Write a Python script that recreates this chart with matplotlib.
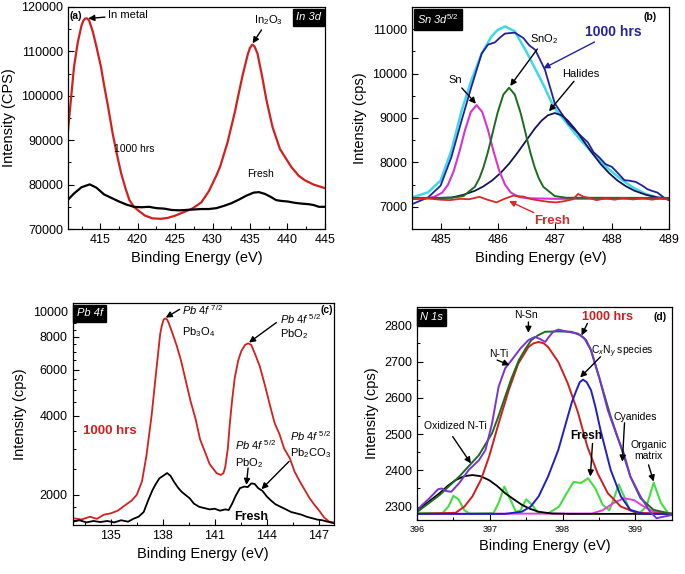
import matplotlib
matplotlib.use("Agg")
import matplotlib.pyplot as plt
from matplotlib.ticker import MultipleLocator, FixedLocator, NullFormatter

plt.rcParams['font.family'] = ['Liberation Sans', 'DejaVu Sans']
plt.rcParams['mathtext.fontset'] = 'custom'
plt.rcParams['mathtext.rm'] = 'Liberation Sans'
plt.rcParams['mathtext.it'] = 'Liberation Sans:italic'
plt.rcParams['mathtext.bf'] = 'Liberation Sans:bold'

# ---------------- (a) In 3d ----------------
a_be_1000 = [410.7, 411.0, 411.5, 412.0, 412.5, 412.75, 413.0, 413.25, 413.5, 414.0, 414.5, 415.1,
             415.5, 416.0, 416.66, 417.2, 417.8, 418.4, 418.9, 419.5, 420.2, 421.0, 422.0, 423.1,
             424.0, 425.0, 426.0, 427.3, 428.5, 429.5, 430.5, 431.0, 432.0, 433.0, 433.3, 434.0,
             434.7, 435.0, 435.3, 435.6, 436.0, 436.6, 437.2, 438.0, 439.0, 440.5, 441.5, 442.3,
             443.5, 445.0]
a_int_1000 = [92200, 97600, 106500, 112000, 115800, 116900, 117400, 117400, 117000, 114500, 111000,
              106500, 102500, 98000, 91500, 87000, 82500, 79000, 76500, 75000, 74000, 73000, 72400,
              72300, 72500, 73000, 73700, 74600, 76000, 78500, 82000, 84000, 89500, 96500, 99000,
              104500, 109300, 110800, 111500, 111100, 109500, 104500, 99000, 93000, 88000, 84000,
              82000, 81000, 80000, 79200]
a_be_fresh = [410.7, 411.5, 412.5, 413.6, 414.5, 415.5, 416.5, 417.5, 418.5, 419.5, 420.5, 421.5,
              422.5, 423.5, 424.5, 425.5, 426.5, 427.5, 428.5, 429.5, 430.5, 431.5, 432.5, 433.5,
              434.5, 435.5, 436.2, 437.0, 437.8, 438.5, 439.3, 440.0, 441.0, 442.0, 442.8, 443.5,
              444.2, 445.0]
a_int_fresh = [76600, 78000, 79400, 80050, 79300, 77800, 77000, 76200, 75500, 75000, 74900, 75000,
               74700, 74600, 74300, 74200, 74300, 74400, 74500, 74500, 74700, 75200, 75800, 76600,
               77500, 78200, 78300, 77900, 77200, 76500, 76300, 76200, 75900, 75700, 75600, 75400,
               75000, 75000]

# ---------------- (b) Sn 3d5/2 ----------------
b_be_env = [484.5, 484.78, 485.0, 485.19, 485.37, 485.54, 485.72, 485.89, 486.0, 486.13, 486.3,
            486.5, 486.66, 486.8, 486.98, 487.2, 487.4, 487.65, 487.9, 488.12, 488.35, 488.59,
            488.8, 489.0]
b_int_env = [7211, 7325, 7590, 8270, 9170, 9850, 10450, 10830, 10980, 11060, 10950, 10500, 10100,
             9750, 9250, 8900, 8580, 8230, 7900, 7660, 7450, 7290, 7210, 7170]
b_be_1000 = [484.5, 484.78, 485.0, 485.19, 485.37, 485.54, 485.72, 485.83, 485.95, 486.05, 486.13,
             486.3, 486.45, 486.55, 486.66, 486.83, 487.0, 487.12, 487.24, 487.36, 487.48, 487.58,
             487.68, 487.79, 487.89, 488.0, 488.12, 488.22, 488.3, 488.42, 488.53, 488.62, 488.7,
             488.8, 488.91, 489.0]
b_int_1000 = [7060, 7210, 7475, 8120, 8950, 9700, 10450, 10650, 10700, 10820, 10900, 10920, 10800,
              10640, 10530, 10080, 9330, 9100, 8870, 8720, 8570, 8450, 8230, 8100, 7960, 7900, 7740,
              7600, 7590, 7560, 7480, 7400, 7360, 7320, 7210, 7150]
b_be_hal = [484.5, 485.0, 485.2, 485.4, 485.6, 485.75, 485.9, 486.05, 486.2, 486.35, 486.5, 486.65,
            486.77, 486.88, 487.0, 487.12, 487.23, 487.35, 487.5, 487.65, 487.8, 487.95, 488.1,
            488.25, 488.4, 488.6, 488.8, 489.0]
b_int_hal = [7180, 7200, 7210, 7270, 7360, 7460, 7590, 7760, 7970, 8220, 8490, 8760, 8940, 9060,
             9110, 9060, 8940, 8760, 8490, 8220, 7970, 7760, 7590, 7460, 7360, 7270, 7210, 7190]
b_be_sn = [484.5, 484.73, 484.88, 485.03, 485.13, 485.23, 485.33, 485.43, 485.53, 485.63, 485.73,
           485.83, 485.93, 486.03, 486.13, 486.23, 486.38, 486.53, 487.0, 489.0]
b_int_sn = [7190, 7192, 7218, 7321, 7496, 7803, 8240, 8734, 9135, 9290, 9135, 8734, 8240, 7803,
            7496, 7321, 7218, 7192, 7180, 7180]
b_be_sno2 = [484.5, 485.2, 485.4, 485.6, 485.68, 485.75, 485.82, 485.87, 485.95, 486.0, 486.1,
             486.2, 486.3, 486.4, 486.45, 486.53, 486.58, 486.65, 486.72, 486.8, 487.0, 487.2, 489.0]
b_int_sno2 = [7200, 7204, 7242, 7450, 7643, 7884, 8189, 8440, 8866, 9122, 9527, 9680, 9527, 9122,
              8866, 8440, 8189, 7884, 7643, 7450, 7242, 7204, 7200]
b_be_fresh = [484.5, 484.75, 485.0, 485.16, 485.35, 485.5, 485.68, 485.82, 485.98, 486.12, 486.27,
              486.45, 486.6, 486.74, 486.9, 487.03, 487.18, 487.32, 487.41, 487.5, 487.6, 487.73,
              487.9, 488.05, 488.2, 488.37, 488.55, 488.7, 488.85, 489.0]
b_int_fresh = [7170, 7190, 7160, 7150, 7180, 7170, 7225, 7160, 7100, 7180, 7250, 7230, 7170, 7140,
               7110, 7100, 7130, 7170, 7290, 7230, 7200, 7150, 7190, 7160, 7200, 7165, 7200, 7160,
               7190, 7160]

# ---------------- (c) Pb 4f ----------------
c_be_1000 = [132.8, 133.3, 133.8, 134.2, 134.6, 135.0, 135.4, 135.8, 136.2, 136.5, 136.8, 137.05,
             137.35, 137.65, 137.85, 137.95, 138.05, 138.15, 138.25, 138.35, 138.6, 138.8, 139.05,
             139.35, 139.6, 139.9, 140.15, 140.4, 140.7, 141.1, 141.35, 141.5, 141.6, 141.75,
             141.86, 142.0, 142.15, 142.35, 142.53, 142.75, 142.92, 143.1, 143.35, 143.59, 143.9,
             144.17, 144.45, 144.74, 145.0, 145.32, 145.6, 145.9, 146.2, 146.47, 146.75, 147.05,
             147.3, 147.6, 147.85]
c_int_1000 = [1630, 1610, 1650, 1620, 1680, 1700, 1740, 1820, 1900, 2000, 2250, 2800, 3980, 6170,
              8200, 8850, 9300, 9400, 9300, 9000, 8100, 7400, 6500, 5350, 4550, 3870, 3250, 2950,
              2620, 2420, 2380, 2420, 2550, 3000, 3700, 4600, 5580, 6500, 7060, 7450, 7550, 7450,
              6800, 6180, 5200, 4410, 3750, 3390, 3000, 2760, 2450, 2250, 2080, 1940, 1830, 1730,
              1640, 1580, 1570]
c_be_fresh = [132.8, 133.2, 133.6, 134.0, 134.4, 134.8, 135.2, 135.6, 136.0, 136.3, 136.6, 136.9,
              137.15, 137.4, 137.6, 137.8, 138.05, 138.25, 138.45, 138.65, 138.9, 139.1, 139.3,
              139.55, 139.8, 140.1, 140.4, 140.7, 141.0, 141.3, 141.6, 141.8, 142.0, 142.2, 142.45,
              142.7, 142.9, 143.1, 143.3, 143.5, 143.75, 144.0, 144.25, 144.5, 144.8, 145.1, 145.4,
              145.7, 146.0, 146.3, 146.6, 146.9, 147.2, 147.5, 147.85]
c_int_fresh = [1580, 1600, 1570, 1590, 1575, 1590, 1570, 1600, 1580, 1620, 1650, 1720, 1900, 2080,
               2200, 2310, 2370, 2420, 2360, 2240, 2120, 2050, 2000, 1940, 1850, 1800, 1780, 1760,
               1770, 1740, 1760, 1750, 1850, 1980, 2120, 2150, 2140, 2210, 2200, 2120, 2070, 1970,
               1900, 1840, 1800, 1760, 1720, 1700, 1680, 1650, 1630, 1610, 1600, 1580, 1560]

# ---------------- (d) N 1s ----------------
d_be_1000 = [396.0, 396.17, 396.29, 396.34, 396.4, 396.47, 396.58, 396.71, 396.85, 396.94, 397.03,
             397.12, 397.21, 397.3, 397.42, 397.53, 397.62, 397.69, 397.76, 397.82, 397.87, 397.94,
             398.07, 398.21, 398.3, 398.39, 398.5, 398.62, 398.75, 398.84, 398.93, 399.07, 399.2,
             399.29, 399.38, 399.5]
d_int_1000 = [2291, 2323, 2348, 2350, 2343, 2341, 2365, 2401, 2428, 2456, 2529, 2630, 2681, 2704,
              2736, 2759, 2768, 2762, 2754, 2770, 2782, 2788, 2782, 2777, 2763, 2731, 2658, 2566,
              2493, 2447, 2383, 2328, 2286, 2268, 2272, 2277]
d_be_env = [396.0, 396.31, 396.58, 396.85, 397.03, 397.12, 397.21, 397.3, 397.4, 397.49, 397.57,
            397.66, 397.76, 397.94, 398.12, 398.25, 398.32, 398.39, 398.45, 398.52, 398.66, 398.8,
            398.93, 399.07, 399.25, 399.5]
d_int_env = [2285, 2332, 2383, 2442, 2502, 2550, 2603, 2655, 2704, 2735, 2759, 2772, 2782, 2783,
             2782, 2772, 2760, 2731, 2690, 2644, 2548, 2465, 2383, 2323, 2291, 2280]
d_be_nsn = [396.0, 396.53, 396.65, 396.76, 396.88, 396.99, 397.12, 397.26, 397.39, 397.53, 397.6,
            397.67, 397.74, 397.8, 397.94, 398.07, 398.21, 398.34, 398.48, 398.62, 398.8, 399.02, 399.5]
d_int_nsn = [2280, 2283, 2300, 2328, 2375, 2438, 2529, 2621, 2694, 2740, 2750, 2754, 2750, 2740,
             2699, 2640, 2560, 2465, 2392, 2337, 2300, 2283, 2280]
d_be_cn = [396.0, 397.21, 397.44, 397.56, 397.67, 397.8, 397.94, 398.07, 398.13, 398.19, 398.235,
           398.28, 398.33, 398.39, 398.45, 398.52, 398.66, 398.8, 398.93, 399.11, 399.5]
d_int_cn = [2280, 2280, 2286, 2300, 2328, 2383, 2456, 2548, 2590, 2621, 2643, 2650, 2643, 2621,
            2575, 2511, 2401, 2328, 2291, 2280, 2280]
d_be_ox = [396.0, 396.15, 396.31, 396.42, 396.53, 396.65, 396.76, 396.87, 396.99, 397.1, 397.21,
           397.33, 397.44, 397.55, 397.67, 397.85, 398.1, 399.5]
d_int_ox = [2290, 2312, 2337, 2357, 2373, 2384, 2387, 2384, 2373, 2357, 2337, 2320, 2305, 2294,
            2286, 2281, 2280, 2280]
d_be_org = [396.0, 398.4, 398.55, 398.7, 398.84, 398.98, 399.1, 399.25, 399.5]
d_int_org = [2280, 2281, 2290, 2310, 2323, 2318, 2302, 2286, 2280]
d_be_fresh = [396.0, 396.35, 396.43, 396.5, 396.57, 396.65, 396.72, 397.05, 397.12, 397.2, 397.28,
              397.36, 397.42, 397.5, 397.58, 397.66, 397.8, 397.95, 398.05, 398.15, 398.25, 398.35,
              398.45, 398.55, 398.64, 398.7, 398.77, 398.84, 398.92, 399.05, 399.15, 399.25, 399.35,
              399.45, 399.5]
d_int_fresh = [2283, 2282, 2300, 2330, 2320, 2290, 2281, 2282, 2310, 2355, 2320, 2285, 2290, 2320,
               2305, 2283, 2281, 2300, 2335, 2368, 2365, 2378, 2350, 2305, 2290, 2320, 2361, 2330,
               2290, 2281, 2300, 2366, 2310, 2282, 2281]

fig = plt.figure(figsize=(6.85, 5.74), dpi=100)
ax_a = fig.add_axes([0.0993, 0.601, 0.375, 0.387])
ax_b = fig.add_axes([0.6015, 0.601, 0.375, 0.387])
ax_c = fig.add_axes([0.106, 0.0854, 0.381, 0.387])
ax_d = fig.add_axes([0.6088, 0.094, 0.372, 0.371])

arrow = dict(arrowstyle='-|>', color='k', lw=1.0, mutation_scale=9, shrinkA=0, shrinkB=0)


def style(ax):
    ax.tick_params(which='both', direction='in', top=False, right=False, labelsize=9)
    ax.tick_params(which='major', length=4, width=0.8)
    ax.tick_params(which='minor', length=2.2, width=0.7)
    for s in ax.spines.values():
        s.set_linewidth(0.9)
    ax.set_xlabel('Binding Energy (eV)', fontsize=10.5)


def tag(ax, txt, x):
    ax.text(x, 0.975, txt, transform=ax.transAxes, ha='left', va='top', color='white',
            style='italic', fontsize=8,
            bbox=dict(facecolor='black', edgecolor='black', boxstyle='square,pad=0.3'))


# (a)
ax = ax_a
ax.plot(a_be_1000, a_int_1000, color='#d21f1f', lw=1.6)
ax.plot(a_be_fresh, a_int_fresh, color='black', lw=1.6)
ax.set_xlim(410.7, 445)
ax.set_ylim(70000, 120000)
ax.xaxis.set_major_locator(MultipleLocator(5))
ax.xaxis.set_minor_locator(MultipleLocator(2.5))
ax.yaxis.set_major_locator(MultipleLocator(10000))
ax.yaxis.set_minor_locator(MultipleLocator(5000))
style(ax)
ax.set_ylabel('Intensity (CPS)', fontsize=10.5)
ax.text(410.95, 118000, '(a)', fontsize=7.5, fontweight='bold', va='center')
ax.annotate('In metal', xy=(413.4, 117400), xytext=(416.0, 118100), fontsize=8,
            va='center', ha='left', arrowprops=arrow)
ax.annotate('In$_2$O$_3$', xy=(435.35, 111800), xytext=(437.4, 117000), fontsize=8,
            va='center', ha='center', arrowprops=arrow)
ax.text(416.8, 88100, '1000 hrs', fontsize=7.5, va='center')
ax.text(434.6, 82300, 'Fresh', fontsize=7.5, va='center')
ax.text(0.985, 0.975, 'In 3d', transform=ax.transAxes, ha='right', va='top', color='white',
        style='italic', fontsize=8,
        bbox=dict(facecolor='black', edgecolor='black', boxstyle='square,pad=0.3'))

# (b)
ax = ax_b
ax.plot(b_be_env, b_int_env, color='#3dd9ea', lw=1.8)
ax.plot(b_be_1000, b_int_1000, color='#22229a', lw=1.3)
ax.plot(b_be_hal, b_int_hal, color='#141458', lw=1.3)
ax.plot(b_be_sn, b_int_sn, color='#d334d3', lw=1.5)
ax.plot(b_be_sno2, b_int_sno2, color='#1d6b1d', lw=1.4)
ax.plot(b_be_fresh, b_int_fresh, color='#d42a2a', lw=1.3)
ax.set_xlim(484.5, 489)
ax.set_ylim(6500, 11500)
ax.xaxis.set_major_locator(MultipleLocator(1))
ax.xaxis.set_minor_locator(MultipleLocator(0.5))
ax.yaxis.set_major_locator(MultipleLocator(1000))
ax.yaxis.set_minor_locator(MultipleLocator(500))
style(ax)
ax.set_ylabel('Intensity (cps)', fontsize=10.5)
tag(ax, 'Sn 3d$^{5/2}$', 0.02)
ax.text(488.55, 11280, '(b)', fontsize=7.5, fontweight='bold', va='center')
ax.annotate('1000 hrs', xy=(486.8, 10115), xytext=(488.03, 10930), fontsize=10,
            fontweight='bold', color='#22229a', ha='center', va='center',
            arrowprops=dict(arrow, color='#22229a'))
ax.annotate('Halides', xy=(486.9, 9150), xytext=(487.45, 10000), fontsize=8,
            ha='center', va='center', arrowprops=arrow)
ax.annotate('SnO$_2$', xy=(486.22, 9720), xytext=(486.82, 10770), fontsize=8,
            ha='center', va='center', arrowprops=arrow)
ax.annotate('Sn', xy=(485.62, 9320), xytext=(485.25, 9850), fontsize=8,
            ha='center', va='center', arrowprops=arrow)
ax.annotate('Fresh', xy=(486.2, 7130), xytext=(486.96, 6670), fontsize=9.5,
            fontweight='bold', color='#d42a2a', ha='center', va='center',
            arrowprops=dict(arrow, color='#d42a2a'))

# (c)
ax = ax_c
ax.plot(c_be_1000, c_int_1000, color='#d21f1f', lw=1.3)
ax.plot(c_be_fresh, c_int_fresh, color='black', lw=1.3)
ax.set_yscale('log')
ax.set_xlim(132.8, 147.85)
ax.set_ylim(1535, 10770)
ax.xaxis.set_major_locator(MultipleLocator(3))
ax.xaxis.set_minor_locator(MultipleLocator(1.5))
ax.yaxis.set_major_locator(FixedLocator([2000, 4000, 6000, 8000, 10000]))
ax.yaxis.set_major_formatter(plt.FuncFormatter(lambda v, p: '%d' % v))
ax.yaxis.set_minor_locator(FixedLocator([1600, 1800, 2500, 3000, 3500, 4500, 5000, 5500, 6500,
                                         7000, 7500, 8500, 9000, 9500]))
ax.yaxis.set_minor_formatter(NullFormatter())
style(ax)
ax.set_ylabel('Intensity (cps)', fontsize=10.5)
tag(ax, 'Pb 4f', 0.015)
ax.text(147.1, 10100, '(c)', fontsize=7.5, fontweight='bold', va='center')
ax.text(134.95, 3490, '1000 hrs', fontsize=9.5, fontweight='bold', color='#d21f1f',
        ha='center', va='center')
ax.text(143.1, 1640, 'Fresh', fontsize=9, fontweight='bold', ha='center', va='center')
pb72 = r'$\mathit{Pb\ 4f}^{\ \mathit{7/2}}$'
pb52 = r'$\mathit{Pb\ 4f}^{\ \mathit{5/2}}$'
ax.text(139.08, 10100, pb72, fontsize=8, va='center')
ax.text(139.08, 8300, 'Pb$_3$O$_4$', fontsize=8, va='center')
ax.annotate('', xy=(138.17, 9460), xytext=(138.97, 10170), arrowprops=arrow)
ax.text(144.74, 9340, pb52, fontsize=8, va='center')
ax.text(144.74, 8170, 'PbO$_2$', fontsize=8, va='center')
ax.annotate('', xy=(142.97, 7600), xytext=(144.55, 9060), arrowprops=arrow)
ax.text(142.15, 3080, pb52, fontsize=8, va='center')
ax.text(142.15, 2640, 'PbO$_2$', fontsize=8, va='center')
ax.annotate('', xy=(142.82, 2180), xytext=(142.92, 2530), arrowprops=arrow)
ax.text(145.32, 3340, pb52, fontsize=8, va='center')
ax.text(145.32, 2880, 'Pb$_2$CO$_3$', fontsize=8, va='center')
ax.annotate('', xy=(143.69, 2100), xytext=(145.28, 2680), arrowprops=arrow)

# (d)
ax = ax_d
ax.plot(d_be_fresh, d_int_fresh, color='#44dd44', lw=1.5)
ax.plot(d_be_org, d_int_org, color='#e040e0', lw=1.4)
ax.plot(d_be_ox, d_int_ox, color='black', lw=1.3)
ax.plot(d_be_nsn, d_int_nsn, color='#cc1f1f', lw=1.4)
ax.plot(d_be_cn, d_int_cn, color='#1f1fc8', lw=1.4)
ax.plot(d_be_env, d_int_env, color='#1d6b1d', lw=1.4)
ax.plot(d_be_1000, d_int_1000, color='#7a33d6', lw=1.4)
ax.set_xlim(396, 399.5)
ax.set_ylim(2263, 2850)
ax.xaxis.set_major_locator(MultipleLocator(1))
ax.xaxis.set_minor_locator(MultipleLocator(0.5))
ax.yaxis.set_major_locator(MultipleLocator(100))
ax.yaxis.set_minor_locator(MultipleLocator(50))
style(ax)
ax.tick_params(axis='x', labelsize=6.5)
ax.set_ylabel('Intensity (cps)', fontsize=10.5)
tag(ax, 'N 1s', 0.012)
ax.text(399.25, 2823, '(d)', fontsize=7.5, fontweight='bold', va='center')
ax.text(398.62, 2823, '1000 hrs', fontsize=9, fontweight='bold', color='#cc1f1f',
        ha='center', va='center')
ax.annotate('', xy=(398.26, 2772), xytext=(398.34, 2805), arrowprops=arrow)
ax.text(397.5, 2828, 'N-Sn', fontsize=7.5, ha='center', va='center')
ax.annotate('', xy=(397.53, 2779), xytext=(397.53, 2809), arrowprops=arrow)
ax.text(397.12, 2722, 'N-Ti', fontsize=7.5, ha='center', va='center')
ax.annotate('', xy=(397.27, 2690), xytext=(397.1, 2704), arrowprops=arrow)
ax.text(398.82, 2727, 'C$_x$N$_y$ species', fontsize=7.5, ha='center', va='center')
ax.annotate('', xy=(398.24, 2656), xytext=(398.52, 2713), arrowprops=arrow)
ax.text(396.53, 2522, 'Oxidized N-Ti', fontsize=7.5, ha='center', va='center')
ax.annotate('', xy=(396.74, 2419), xytext=(396.49, 2493), arrowprops=arrow)
ax.text(398.32, 2494, 'Fresh', fontsize=8.5, fontweight='bold', ha='center', va='center')
ax.annotate('', xy=(398.38, 2383), xytext=(398.41, 2474), arrowprops=arrow)
ax.text(399.0, 2548, 'Cyanides', fontsize=7.5, ha='center', va='center')
ax.annotate('', xy=(398.82, 2424), xytext=(398.85, 2531), arrowprops=arrow)
ax.text(399.18, 2455, 'Organic\nmatrix', fontsize=7.5, ha='center', va='center',
        linespacing=1.2)
ax.annotate('', xy=(399.25, 2369), xytext=(399.18, 2415), arrowprops=arrow)

fig.savefig('out.png', dpi=100)
